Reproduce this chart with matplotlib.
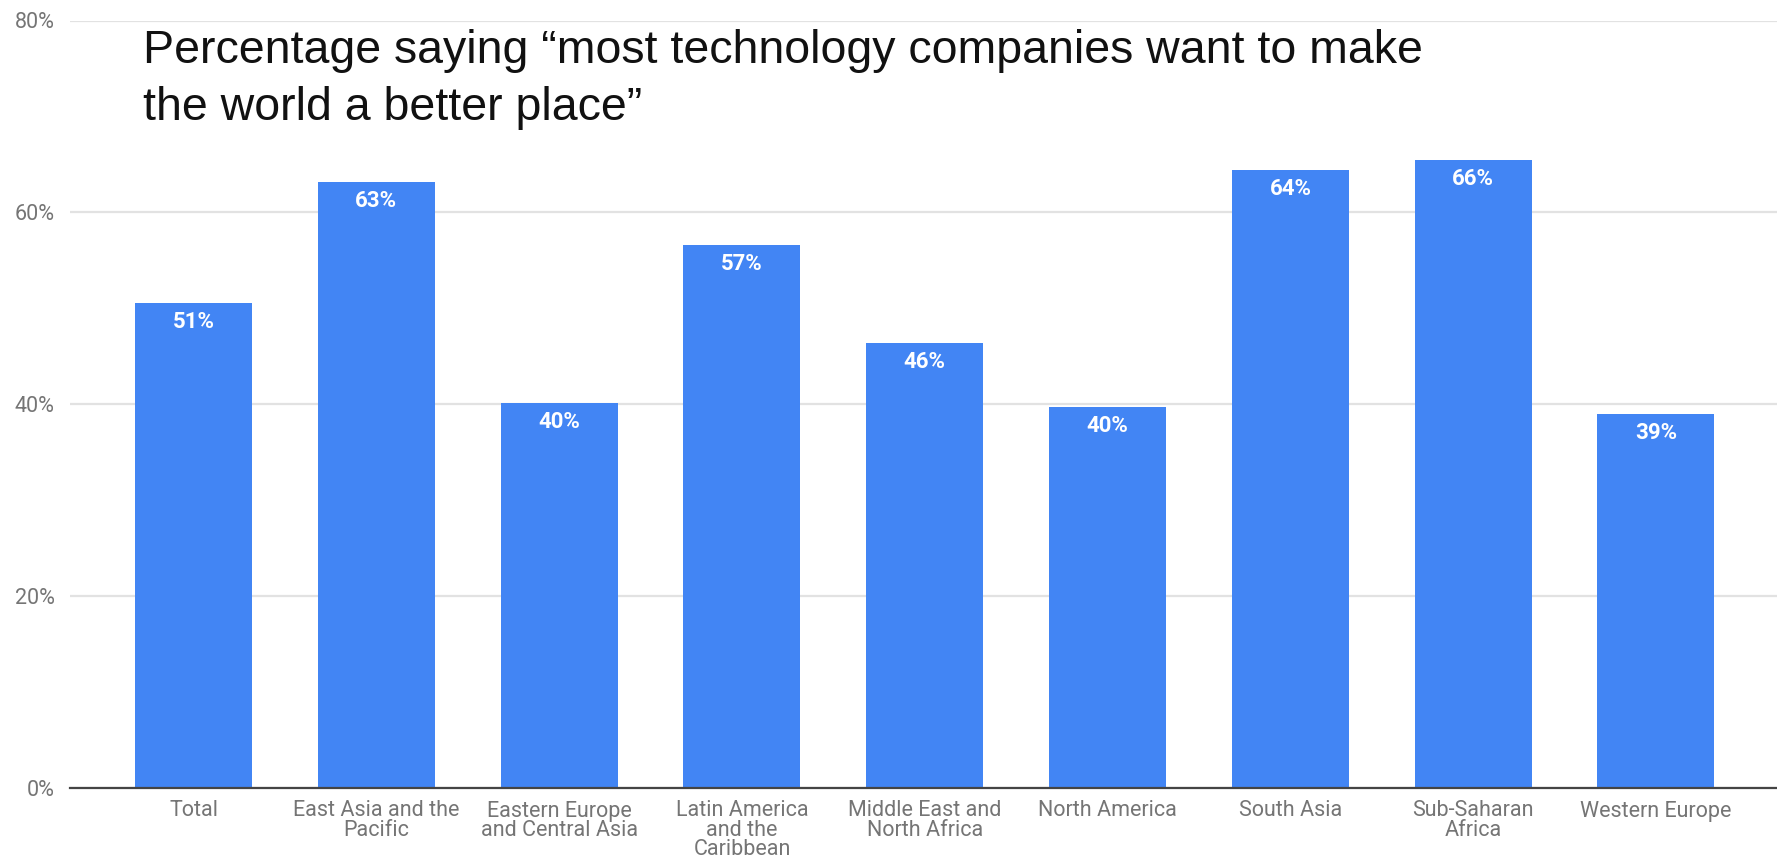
"""Bar chart: share saying most tech companies want to make the world better."""

import matplotlib

matplotlib.use("Agg")

import matplotlib.pyplot as plt
from matplotlib.ticker import FuncFormatter

regions = [
    "Total",
    "East Asia and the\nPacific",
    "Eastern Europe\nand Central Asia",
    "Latin America\nand the\nCaribbean",
    "Middle East and\nNorth Africa",
    "North America",
    "South Asia",
    "Sub-Saharan\nAfrica",
    "Western Europe",
]
share_pct = [50.6, 63.2, 40.1, 56.6, 46.4, 39.7, 64.4, 65.5, 39.0]
y_ticks = [0, 20, 40, 60, 80]

title_lines = [
    "Percentage saying \u201cmost technology companies want to make",
    "the world a better place\u201d",
]

BLUE = "#4285f4"
GREY_TEXT = "#757575"

fig = plt.figure(figsize=(17.77, 8.59), dpi=100)
ax = fig.add_axes([70 / 1777, 1 - 788 / 859, 1 - 70 / 1777, (788 - 20.5) / 859])

x = range(len(regions))
bars = ax.bar(x, share_pct, width=0.64, color=BLUE, zorder=2)

for rect, val in zip(bars, share_pct):
    ax.annotate(
        f"{val:.0f}%",
        xy=(rect.get_x() + rect.get_width() / 2, val),
        xytext=(0, -19),
        textcoords="offset pixels",
        ha="center",
        va="center",
        color="white",
        fontweight="bold",
        fontsize=16,
        family="Roboto",
        zorder=3,
    )

ax.set_xlim(-0.676, 8.662)
ax.set_ylim(0, 80)
ax.set_yticks(y_ticks)
ax.yaxis.set_major_formatter(FuncFormatter(lambda v, _: f"{v:.0f}%"))
ax.set_xticks(list(x))
ax.set_xticklabels(regions, linespacing=0.9)

ax.grid(axis="y", color="#e2e2e2", linewidth=1.6, zorder=0)
ax.set_axisbelow(True)
for side in ("top", "right", "left"):
    ax.spines[side].set_visible(False)
ax.spines["bottom"].set_color("#444444")
ax.spines["bottom"].set_linewidth(1.6)
ax.spines["bottom"].set_zorder(4)

ax.tick_params(axis="both", length=0, colors=GREY_TEXT, labelsize=15.5)
ax.tick_params(axis="x", pad=9)
ax.tick_params(axis="y", pad=11)
for lbl in ax.get_xticklabels() + ax.get_yticklabels():
    lbl.set_family("Roboto")

# two-line heading set into the plot area
for line, base_px in zip(title_lines, [63, 120]):
    fig.text(
        143 / 1777,
        1 - base_px / 859,
        line,
        ha="left",
        va="baseline",
        fontsize=33.5,
        family="Liberation Sans",
        color="#111111",
    )

fig.savefig("out.png", dpi=100)
